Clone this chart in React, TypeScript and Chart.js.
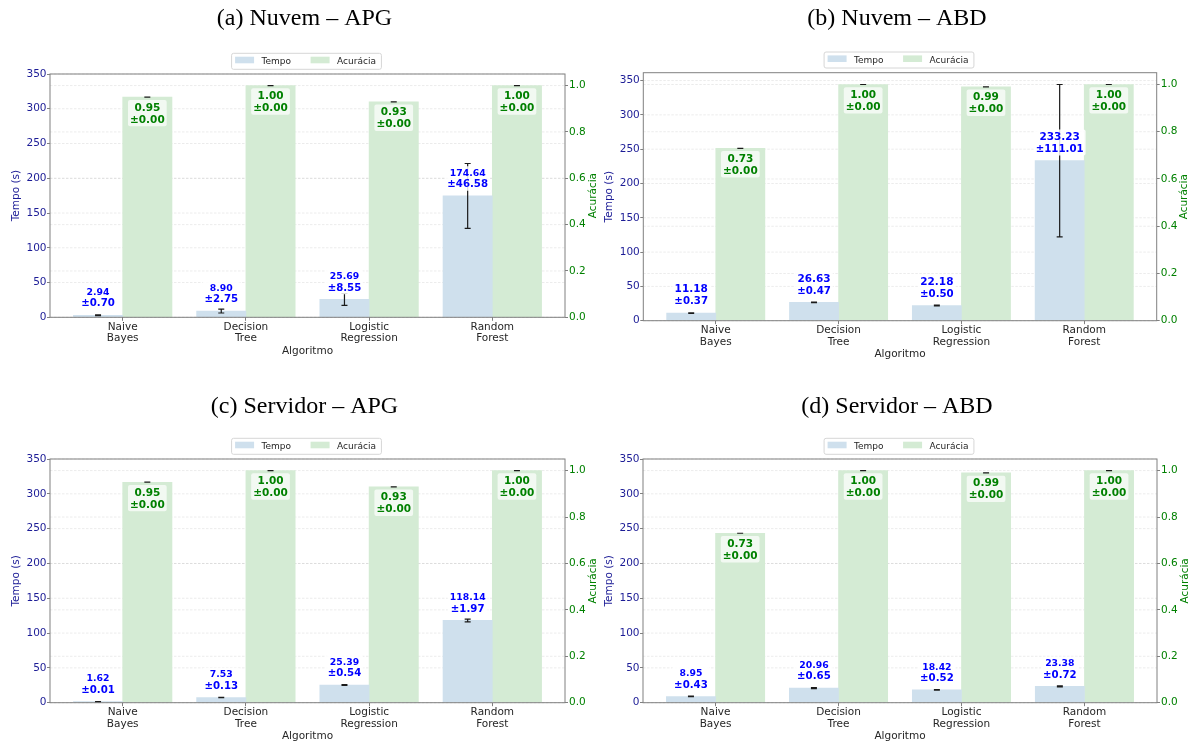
import React, { useEffect, useRef } from "react";
import { Chart, registerables } from "chart.js";

Chart.register(...registerables);

// ---------------- DATA ----------------
const categories: string[][] = [
  ["Naive", "Bayes"],
  ["Decision", "Tree"],
  ["Logistic", "Regression"],
  ["Random", "Forest"],
];
const seriesLabels = ["Tempo", "Acurácia"];
const panelTitles = [
  "(a) Nuvem – APG",
  "(b) Nuvem – ABD",
  "(c) Servidor – APG",
  "(d) Servidor – ABD",
];
const axisTitleX = "Algoritmo";
const axisTitleTempo = "Tempo (s)";
const axisTitleAcuracia = "Acurácia";

const tempoNuvemAPG = [2.94, 8.9, 25.69, 174.64];
const tempoErrNuvemAPG = [0.7, 2.75, 8.55, 46.58];
const acuraciaNuvemAPG = [0.95, 1.0, 0.93, 1.0];
const acuraciaErrNuvemAPG = [0, 0, 0, 0];

const tempoNuvemABD = [11.18, 26.63, 22.18, 233.23];
const tempoErrNuvemABD = [0.37, 0.47, 0.5, 111.01];
const acuraciaNuvemABD = [0.73, 1.0, 0.99, 1.0];
const acuraciaErrNuvemABD = [0, 0, 0, 0];

const tempoServidorAPG = [1.62, 7.53, 25.39, 118.14];
const tempoErrServidorAPG = [0.01, 0.13, 0.54, 1.97];
const acuraciaServidorAPG = [0.95, 1.0, 0.93, 1.0];
const acuraciaErrServidorAPG = [0, 0, 0, 0];

const tempoServidorABD = [8.95, 20.96, 18.42, 23.38];
const tempoErrServidorABD = [0.43, 0.65, 0.52, 0.72];
const acuraciaServidorABD = [0.73, 1.0, 0.99, 1.0];
const acuraciaErrServidorABD = [0, 0, 0, 0];

const tempoTicks = [0, 50, 100, 150, 200, 250, 300, 350];
const acuraciaTicks = [0, 0.2, 0.4, 0.6, 0.8, 1.0];

const panels = [
  { title: panelTitles[0], tempo: tempoNuvemAPG, tempoErr: tempoErrNuvemAPG, acc: acuraciaNuvemAPG, accErr: acuraciaErrNuvemAPG },
  { title: panelTitles[1], tempo: tempoNuvemABD, tempoErr: tempoErrNuvemABD, acc: acuraciaNuvemABD, accErr: acuraciaErrNuvemABD },
  { title: panelTitles[2], tempo: tempoServidorAPG, tempoErr: tempoErrServidorAPG, acc: acuraciaServidorAPG, accErr: acuraciaErrServidorAPG },
  { title: panelTitles[3], tempo: tempoServidorABD, tempoErr: tempoErrServidorABD, acc: acuraciaServidorABD, accErr: acuraciaErrServidorABD },
];

// ---------------- LAYOUT / STYLE ----------------
const W = 1192;
const H = 742;
const LW = 50;
const RW = 35;
const XH = 38;
const geometry = [
  { L: 50, R: 565, T: 74, B: 317.3, titleY: 19, valueFont: 9.3 },
  { L: 643.3, R: 1156.7, T: 72.7, B: 320.7, titleY: 19, valueFont: 10.5 },
  { L: 50, R: 565, T: 459, B: 702.7, titleY: 407, valueFont: 9.3 },
  { L: 643, R: 1157, T: 459, B: 702.7, titleY: 407, valueFont: 9.3 },
];
const FONT = '"DejaVu Sans", sans-serif';
const tempoColor = "#cfe0ed";
const accColor = "#d4ebd4";
const tempoAxisColor = "#1c1c96";
const accAxisColor = "#008000";
const spineColor = "#808080";
const barOffset = 0.2;
const barHalf = 0.4;

function makePlugin(p: any, g: any) {
  return {
    id: "panelDecor",
    beforeDatasetsDraw(chart: any) {
      const { ctx, chartArea } = chart;
      const { left, right } = chartArea;
      const y = chart.scales.y;
      const y1 = chart.scales.y1;
      ctx.save();
      ctx.strokeStyle = "rgba(0,0,0,0.1)";
      ctx.lineWidth = 0.8;
      ctx.setLineDash([2.5, 1.5]);
      const hl = (py: number) => {
        ctx.beginPath();
        ctx.moveTo(left, py);
        ctx.lineTo(right, py);
        ctx.stroke();
      };
      tempoTicks.forEach((v) => hl(y.getPixelForValue(v)));
      acuraciaTicks.forEach((v) => hl(y1.getPixelForValue(v)));
      ctx.restore();
    },
    afterDatasetsDraw(chart: any) {
      const { ctx, chartArea } = chart;
      const { left, right, top, bottom } = chartArea;
      const y = chart.scales.y;
      const y1 = chart.scales.y1;
      ctx.save();
      // frame
      ctx.strokeStyle = spineColor;
      ctx.lineWidth = 1;
      ctx.strokeRect(left, top, right - left, bottom - top);

      // error bars
      ctx.strokeStyle = "#1a1a1a";
      ctx.lineWidth = 1.2;
      const err = (x: number, sc: any, v: number, e: number) => {
        const yt = sc.getPixelForValue(v + e);
        const yb = sc.getPixelForValue(v - e);
        ctx.beginPath();
        ctx.moveTo(x, yt);
        ctx.lineTo(x, yb);
        ctx.moveTo(x - 3, yt);
        ctx.lineTo(x + 3, yt);
        ctx.moveTo(x - 3, yb);
        ctx.lineTo(x + 3, yb);
        ctx.stroke();
      };
      const m0 = chart.getDatasetMeta(0).data;
      const m1 = chart.getDatasetMeta(1).data;
      p.tempo.forEach((v: number, i: number) => err(m0[i].x, y, v, p.tempoErr[i]));
      p.acc.forEach((v: number, i: number) => err(m1[i].x, y1, v, p.accErr[i]));

      // labels
      const block = (x: number, lines: any[], color: string, alpha: number) => {
        let wmax = 0;
        lines.forEach((l) => {
          ctx.font = `bold ${l.size}px ${FONT}`;
          wmax = Math.max(wmax, ctx.measureText(l.text).width);
        });
        const bt = lines[0].cy - lines[0].size * 0.75;
        const bb = lines[lines.length - 1].cy + lines[lines.length - 1].size * 0.62;
        ctx.fillStyle = `rgba(255,255,255,${alpha})`;
        ctx.beginPath();
        (ctx as any).roundRect(x - wmax / 2 - 2, bt, wmax + 4, bb - bt, 2);
        ctx.fill();
        ctx.fillStyle = color;
        ctx.textAlign = "center";
        ctx.textBaseline = "middle";
        lines.forEach((l) => {
          ctx.font = `bold ${l.size}px ${FONT}`;
          ctx.fillText(l.text, x, l.cy);
        });
      };
      const pmSize = 10.2;
      const spacing = ((g.valueFont + pmSize) / 2) * 1.15;
      p.tempo.forEach((v: number, i: number) => {
        const bar = m0[i];
        const c2 = bar.y - 11.5;
        const c1 = c2 - spacing;
        block(
          bar.x,
          [
            { text: v.toFixed(2), size: g.valueFont, cy: c1 },
            { text: "±" + p.tempoErr[i].toFixed(2), size: pmSize, cy: c2 },
          ],
          "#0000ff",
          0.85
        );
      });
      p.acc.forEach((v: number, i: number) => {
        const bar = m1[i];
        const c1 = bar.y + 10.6;
        const c2 = bar.y + 22.6;
        block(
          bar.x,
          [
            { text: v.toFixed(2), size: 10.5, cy: c1 },
            { text: "±" + p.accErr[i].toFixed(2), size: 10.5, cy: c2 },
          ],
          "#008000",
          0.7
        );
      });
      ctx.restore();
    },
    afterDraw(chart: any) {
      const { ctx, chartArea } = chart;
      const { left, right, top, bottom } = chartArea;
      const cx = (left + right) / 2;
      const cy = (top + bottom) / 2;
      ctx.save();
      // title
      ctx.fillStyle = "#000";
      ctx.font = `24px "Liberation Serif", "Times New Roman", serif`;
      ctx.textAlign = "center";
      ctx.textBaseline = "middle";
      ctx.fillText(p.title, cx - 3, g.titleY);

      // legend
      ctx.font = `9px ${FONT}`;
      const tw1 = ctx.measureText(seriesLabels[0]).width;
      const tw2 = ctx.measureText(seriesLabels[1]).width;
      const wTot = 3.5 + 19 + 7.5 + tw1 + 19.5 + 19 + 7.5 + tw2 + 5.5;
      const lx = cx - 1 - wTot / 2;
      const ly = top - 20.7;
      ctx.fillStyle = "rgba(255,255,255,0.9)";
      ctx.strokeStyle = "#d6d6d6";
      ctx.lineWidth = 1;
      ctx.beginPath();
      (ctx as any).roundRect(lx, ly, wTot, 16, 2);
      ctx.fill();
      ctx.stroke();
      let x = lx + 3.5;
      ctx.fillStyle = tempoColor;
      ctx.fillRect(x, ly + 3.4, 19, 6.6);
      x += 19 + 7.5;
      ctx.fillStyle = "#262626";
      ctx.textAlign = "left";
      ctx.textBaseline = "middle";
      ctx.fillText(seriesLabels[0], x, ly + 8.2);
      x += tw1 + 19.5;
      ctx.fillStyle = accColor;
      ctx.fillRect(x, ly + 3.4, 19, 6.6);
      x += 19 + 7.5;
      ctx.fillStyle = "#262626";
      ctx.fillText(seriesLabels[1], x, ly + 8.2);

      // axis titles
      ctx.font = `10.5px ${FONT}`;
      ctx.textAlign = "center";
      ctx.textBaseline = "middle";
      ctx.fillStyle = "#262626";
      ctx.fillText(axisTitleX, cx, bottom + 34);
      ctx.save();
      ctx.translate(left - 34, cy);
      ctx.rotate(-Math.PI / 2);
      ctx.fillStyle = tempoAxisColor;
      ctx.fillText(axisTitleTempo, 0, 0);
      ctx.restore();
      ctx.save();
      ctx.translate(right + 28, cy);
      ctx.rotate(-Math.PI / 2);
      ctx.fillStyle = accAxisColor;
      ctx.fillText(axisTitleAcuracia, 0, 0);
      ctx.restore();
      ctx.restore();
    },
  };
}

function buildConfig(idx: number): any {
  const p = panels[idx];
  const g = geometry[idx];
  const n = categories.length;
  const xRange = n - 1 + 2 * barHalf;
  const xMin = -barHalf - 0.05 * xRange;
  const xMax = n - 1 + barHalf + 0.05 * xRange;
  const tempoTop = Math.max(...p.tempo.map((v, i) => v + p.tempoErr[i]));
  const tempoMax = Math.max(tempoTicks[tempoTicks.length - 1], tempoTop * 1.05);
  const accTop = Math.max(...p.acc.map((v, i) => v + p.accErr[i]));
  const accMax = accTop * 1.05;
  const tickFont = { family: FONT, size: 10.5 };
  return {
    type: "bar",
    data: {
      datasets: [
        {
          label: seriesLabels[0],
          data: p.tempo.map((v, i) => ({ x: i - barOffset, y: v })),
          xAxisID: "x",
          yAxisID: "y",
          backgroundColor: tempoColor,
          borderWidth: 0,
          grouped: false,
          barPercentage: 1,
          categoryPercentage: 1,
        },
        {
          label: seriesLabels[1],
          data: p.acc.map((v, i) => ({ x: i + barOffset, y: v })),
          xAxisID: "x",
          yAxisID: "y1",
          backgroundColor: accColor,
          borderWidth: 0,
          grouped: false,
          barPercentage: 1,
          categoryPercentage: 1,
        },
      ],
    },
    options: {
      animation: false,
      responsive: false,
      devicePixelRatio: 1,
      events: [],
      layout: {
        padding: {
          left: g.L - LW,
          right: W - g.R - RW,
          top: g.T,
          bottom: H - g.B - XH,
        },
      },
      plugins: {
        legend: { display: false },
        title: { display: false },
        tooltip: { enabled: false },
      },
      scales: {
        x: {
          type: "linear",
          position: "bottom",
          min: xMin,
          max: xMax,
          offset: false,
          afterBuildTicks: (s: any) => {
            s.ticks = categories.map((_, i) => ({ value: i }));
          },
          afterFit: (s: any) => {
            s.height = XH;
          },
          ticks: {
            autoSkip: false,
            maxRotation: 0,
            minRotation: 0,
            padding: 0.5,
            color: "#262626",
            font: { ...tickFont, lineHeight: 1.1 },
            callback: (v: number) => categories[Math.round(v)],
          },
          grid: {
            offset: false,
            drawOnChartArea: false,
            drawTicks: true,
            tickLength: 3.5,
            tickColor: spineColor,
            tickWidth: 1,
          },
          border: { display: false },
        },
        y: {
          type: "linear",
          position: "left",
          min: 0,
          max: tempoMax,
          afterBuildTicks: (s: any) => {
            s.ticks = tempoTicks.map((v) => ({ value: v }));
          },
          afterFit: (s: any) => {
            s.width = LW;
          },
          ticks: {
            padding: 0.5,
            color: tempoAxisColor,
            font: tickFont,
            callback: (v: number) => String(v),
          },
          grid: {
            drawOnChartArea: false,
            drawTicks: true,
            tickLength: 3,
            tickColor: spineColor,
            tickWidth: 1,
          },
          border: { display: false },
        },
        y1: {
          type: "linear",
          position: "right",
          min: 0,
          max: accMax,
          afterBuildTicks: (s: any) => {
            s.ticks = acuraciaTicks.map((v) => ({ value: v }));
          },
          afterFit: (s: any) => {
            s.width = RW;
          },
          ticks: {
            padding: 1,
            color: accAxisColor,
            font: tickFont,
            callback: (v: number) => v.toFixed(1),
          },
          grid: {
            drawOnChartArea: false,
            drawTicks: true,
            tickLength: 3,
            tickColor: spineColor,
            tickWidth: 1,
          },
          border: { display: false },
        },
      },
    },
    plugins: [makePlugin(p, g)],
  };
}

function Panel({ idx }: { idx: number }) {
  const ref = useRef<HTMLCanvasElement | null>(null);
  useEffect(() => {
    if (!ref.current) return;
    const chart = new Chart(ref.current, buildConfig(idx));
    return () => chart.destroy();
  }, [idx]);
  return (
    <canvas
      ref={ref}
      width={W}
      height={H}
      style={{ position: "absolute", left: 0, top: 0, width: W, height: H }}
    />
  );
}

export default function App() {
  return (
    <div
      style={{
        position: "fixed",
        left: 0,
        top: 0,
        width: W,
        height: H,
        background: "#fff",
        overflow: "hidden",
      }}
    >
      {panels.map((_, i) => (
        <Panel key={i} idx={i} />
      ))}
    </div>
  );
}
